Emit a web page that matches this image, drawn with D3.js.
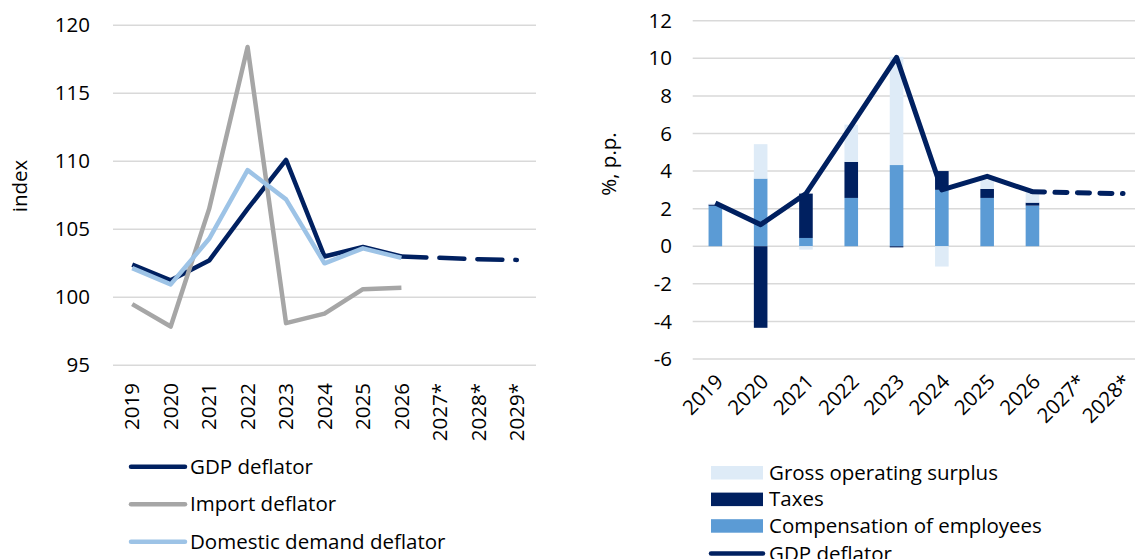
<!DOCTYPE html>
<html lang="en">
<head>
<meta charset="UTF-8">
<style>
    body { margin: 0; background: #fff; }
    svg text { font-family: "Open Sans", sans-serif; font-size: 20.5px; fill: #000; }
    .grid line { stroke: #d9d9d9; stroke-width: 1.5; }
</style>
<script src="https://d3js.org/d3.v7.min.js"></script>
<title>Deflators</title>
</head>
<body>
<svg width="1135" height="559"></svg>
<script>

// left panel: deflator indices
var years = ["2019", "2020", "2021", "2022", "2023", "2024", "2025", "2026", "2027*", "2028*", "2029*"];
var gdpDeflator = [102.4, 101.25, 102.7, 106.5, 110.1, 103.0, 103.7, 103.0, 102.9, 102.8, 102.75];
var importDeflator = [99.5, 97.85, 106.5, 118.4, 98.1, 98.8, 100.6, 100.7, null, null, null];
var domesticDeflator = [102.15, 100.95, 104.3, 109.35, 107.2, 102.5, 103.6, 102.9, null, null, null];
var leftTicks = [95, 100, 105, 110, 115, 120];

// right panel: contributions to GDP deflator growth
var years2 = ["2019", "2020", "2021", "2022", "2023", "2024", "2025", "2026", "2027*", "2028*"];
var compensation = [2.15, 3.6, 0.44, 2.57, 4.32, 3.0, 2.57, 2.16, 0, 0];
var taxes = [0.07, -4.34, 2.36, 1.92, -0.06, 1.0, 0.48, 0.16, 0, 0];
var grossSurplus = [0.05, 1.83, -0.18, 1.98, 5.76, -1.08, 0.48, 0.58, 0, 0];
var gdpGrowth = [2.3, 1.15, 2.8, 6.4, 10.05, 3.0, 3.72, 2.9, 2.85, 2.8];
var rightTicks = [-6, -4, -2, 0, 2, 4, 6, 8, 10, 12];

var navy = "#002060", grey = "#a6a6a6", lightBlue = "#9dc3e6",
    midBlue = "#5b9bd5", paleBlue = "#deebf7";

var svg = d3.select("svg");

// ---------- left chart ----------
var xL = d3.scaleBand().domain(years).range([113, 536]);
var yL = d3.scaleLinear().domain([95, 120]).range([365.3, 25.3]);
var cx = function(i) { return xL(years[i]) + xL.bandwidth() / 2; };

var gl = svg.append("g");
gl.append("g").attr("class", "grid")
  .selectAll("line").data(leftTicks).enter().append("line")
  .attr("x1", 113).attr("x2", 536)
  .attr("y1", function(d) { return yL(d); })
  .attr("y2", function(d) { return yL(d); });

gl.selectAll(".ytick").data(leftTicks).enter().append("text")
  .attr("x", 90).attr("y", function(d) { return yL(d); })
  .attr("dy", "0.35em").attr("text-anchor", "end")
  .text(function(d) { return d; });

gl.selectAll(".xtick").data(years).enter().append("text")
  .attr("transform", function(d) {
      return "translate(" + (xL(d) + xL.bandwidth() / 2) + ",383) rotate(-90)";
  })
  .attr("dy", "0.35em").attr("text-anchor", "end")
  .text(function(d) { return d; });

gl.append("text")
  .attr("transform", "translate(20,186) rotate(-90)")
  .attr("dy", "0.35em").attr("text-anchor", "middle")
  .text("index");

var lineL = d3.line()
    .defined(function(d) { return d != null; })
    .x(function(d, i) { return cx(i); })
    .y(function(d) { return yL(d); });

function drawLeft(values, color, from, to, dash) {
    var pts = values.map(function(v, i) { return (i >= from && i <= to) ? v : null; });
    gl.append("path")
      .attr("d", lineL(pts))
      .attr("fill", "none")
      .attr("stroke", color)
      .attr("stroke-width", 4.5)
      .attr("stroke-linejoin", "round")
      .attr("stroke-linecap", dash ? "round" : "butt")
      .attr("stroke-dasharray", dash || null);
}
drawLeft(gdpDeflator, navy, 0, 7);
drawLeft(gdpDeflator, navy, 7, 10, "25,13");
drawLeft(importDeflator, grey, 0, 7);
drawLeft(domesticDeflator, lightBlue, 0, 7);

// left legend
var legL = [["GDP deflator", navy], ["Import deflator", grey], ["Domestic demand deflator", lightBlue]];
legL.forEach(function(l, i) {
    var y = 466.7 + i * 37.5;
    gl.append("line").attr("x1", 131).attr("x2", 185).attr("y1", y).attr("y2", y)
      .attr("stroke", l[1]).attr("stroke-width", 4.5).attr("stroke-linecap", "round");
    gl.append("text").attr("x", 190).attr("y", y).attr("dy", "0.35em").text(l[0]);
});

// ---------- right chart ----------
var xR = d3.scaleBand().domain(years2).range([692.7, 692.7 + 45.3 * 10]);
var yR = d3.scaleLinear().domain([-6, 12]).range([359, 20.7]);
var cxR = function(i) { return xR(years2[i]) + xR.bandwidth() / 2; };

var gr = svg.append("g");
gr.append("g").attr("class", "grid")
  .selectAll("line").data(rightTicks).enter().append("line")
  .attr("x1", 692.7).attr("x2", 1146)
  .attr("y1", function(d) { return yR(d); })
  .attr("y2", function(d) { return yR(d); });

gr.selectAll(".ytick").data(rightTicks).enter().append("text")
  .attr("x", 672).attr("y", function(d) { return yR(d); })
  .attr("dy", "0.35em").attr("text-anchor", "end")
  .text(function(d) { return d; });

gr.selectAll(".xtick").data(years2).enter().append("text")
  .attr("transform", function(d) {
      return "translate(" + (xR(d) + xR.bandwidth() / 2 + 4) + ",378) rotate(-45)";
  })
  .attr("dy", "0.35em").attr("text-anchor", "end")
  .text(function(d) { return d; });

gr.append("text")
  .attr("transform", "translate(609,164) rotate(-90)")
  .attr("dy", "0.35em").attr("text-anchor", "middle")
  .text("%, p.p.");

var rows = years2.map(function(y, i) {
    return { year: y, comp: compensation[i], taxes: taxes[i], gos: grossSurplus[i] };
});
var keys = ["comp", "taxes", "gos"];
var colors = { comp: midBlue, taxes: navy, gos: paleBlue };
var stacked = d3.stack().keys(keys).offset(d3.stackOffsetDiverging)(rows);
var barW = xR.bandwidth() * 0.3;

gr.selectAll(".series").data(stacked).enter().append("g")
  .attr("fill", function(s) { return colors[s.key]; })
  .selectAll("rect").data(function(s) { return s; }).enter().append("rect")
  .attr("x", function(d) { return xR(d.data.year) + (xR.bandwidth() - barW) / 2; })
  .attr("width", barW)
  .attr("y", function(d) { return yR(Math.max(d[0], d[1])); })
  .attr("height", function(d) { return Math.abs(yR(d[0]) - yR(d[1])); });

var lineR = d3.line()
    .defined(function(d) { return d != null; })
    .x(function(d, i) { return cxR(i); })
    .y(function(d) { return yR(d); });

function drawRight(from, to, dash) {
    var pts = gdpGrowth.map(function(v, i) { return (i >= from && i <= to) ? v : null; });
    gr.append("path")
      .attr("d", lineR(pts))
      .attr("fill", "none")
      .attr("stroke", navy)
      .attr("stroke-width", 5)
      .attr("stroke-linejoin", "round")
      .attr("stroke-linecap", dash ? "round" : "butt")
      .attr("stroke-dasharray", dash || null);
}
drawRight(0, 7);
drawRight(7, 9, "12,10.5");

// right legend
var legR = [["Gross operating surplus", paleBlue], ["Taxes", navy], ["Compensation of employees", midBlue]];
legR.forEach(function(l, i) {
    var y = 466 + i * 26.6;
    gr.append("rect").attr("x", 711).attr("y", y).attr("width", 52).attr("height", 13.5).attr("fill", l[1]);
    gr.append("text").attr("x", 769).attr("y", y + 6.7).attr("dy", "0.35em").text(l[0]);
});
gr.append("line").attr("x1", 711).attr("x2", 763).attr("y1", 553.5).attr("y2", 553.5)
  .attr("stroke", navy).attr("stroke-width", 4.5).attr("stroke-linecap", "round");
gr.append("text").attr("x", 769).attr("y", 553.5).attr("dy", "0.35em").text("GDP deflator");

</script>
</body>
</html>
